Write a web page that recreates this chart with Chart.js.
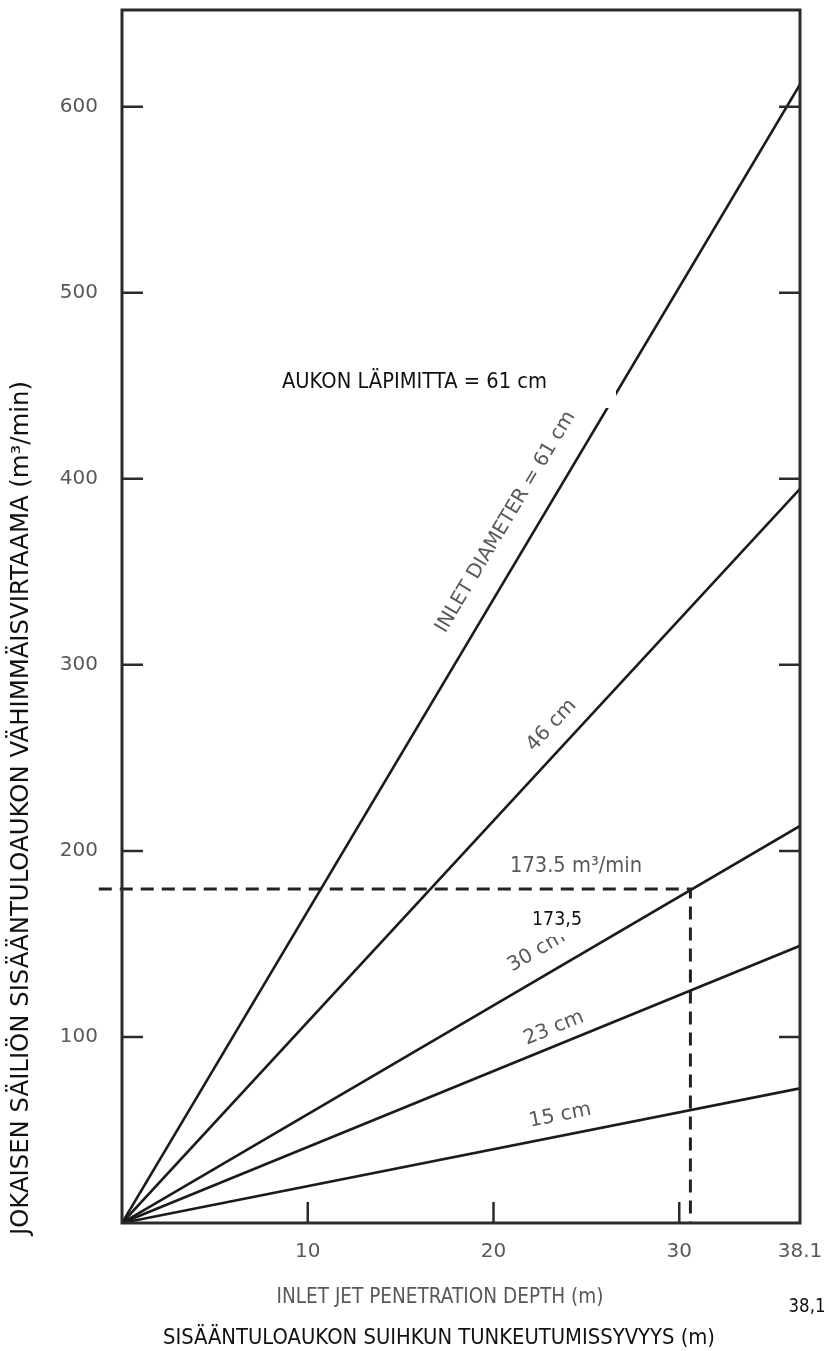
<!DOCTYPE html>
<html lang="fi">
<head>
<meta charset="utf-8">
<title>Sisääntuloaukon vähimmäisvirtaama</title>
<script src="https://cdn.jsdelivr.net/npm/chart.js@4.4.1/dist/chart.umd.min.js"></script>
<style>
  html, body { margin: 0; padding: 0; background: #fff; }
  #grafica { display: block; }
</style>
</head>
<body>
<canvas id="grafica" width="829" height="1351"></canvas>
<script>
// Akselit
const xMax = 36.5;               // kuvaajan oikea reuna (m)
const xTicks = [10, 20, 30];
const xUltimoTexto = '38.1';     // oikean reunan merkintä
const yMax = 652;
const yTicks = [100, 200, 300, 400, 500, 600];

// Suorat: halkaisija ja virtaama oikeassa reunassa (m3/min)
const diametros = ['INLET DIAMETER = 61 cm', '46 cm', '30 cm', '23 cm', '15 cm'];
const caudalFinal = [612, 394.6, 213.4, 149, 72.4];

// Katkoviivalla merkitty lukema
const lecturaX = 30.6;
const lecturaY = 179.5;
const lecturaInicioX = -1.25;

const FUENTE = "'DejaVu Sans', 'Noto Sans', sans-serif";
const GRIS = '#585858';
const NEGRO = '#111111';

function textoAjustado(ctx, txt, cx, cy, ancho, size, color, angulo) {
  ctx.save();
  ctx.font = size + 'px ' + FUENTE;
  ctx.fillStyle = color;
  ctx.textAlign = 'center';
  ctx.textBaseline = 'middle';
  ctx.translate(cx, cy);
  ctx.rotate(angulo || 0);
  const w = ctx.measureText(txt).width;
  ctx.scale(ancho / w, 1);
  ctx.fillText(txt, 0, 0);
  ctx.restore();
}

// etiquetas junto a las rectas: x del pie, distancia, ancho
const etiquetas = [
  { xv: 22.0, d: 29, ancho: 254, size: 20 },
  { xv: 24.0, d: 22, ancho: 63, size: 20 },
  { xv: 23.0, d: 25, ancho: 63, size: 20 },
  { xv: 23.6, d: 17, ancho: 63, size: 20 },
  { xv: 23.8, d: 20, ancho: 63, size: 20 }
];

const detalles = {
  id: 'detalles',
  afterDatasetsDraw(chart) {
    const { ctx, chartArea: { left, right, top, bottom }, scales: { x, y } } = chart;

    ctx.save();
    ctx.strokeStyle = '#2b2b2b';
    ctx.lineWidth = 3;
    ctx.strokeRect(left, top, right - left, bottom - top);

    // marcas hacia dentro
    ctx.lineWidth = 2.5;
    ctx.beginPath();
    yTicks.forEach(v => {
      const py = y.getPixelForValue(v);
      ctx.moveTo(left, py); ctx.lineTo(left + 21, py);
      ctx.moveTo(right - 21, py); ctx.lineTo(right, py);
    });
    xTicks.forEach(v => {
      const px = x.getPixelForValue(v);
      ctx.moveTo(px, bottom); ctx.lineTo(px, bottom - 21);
    });
    ctx.stroke();
    ctx.restore();

    // etiquetas de las rectas
    diametros.forEach((txt, i) => {
      const e = etiquetas[i];
      const x0 = x.getPixelForValue(0), y0 = y.getPixelForValue(0);
      const x1 = x.getPixelForValue(xMax), y1 = y.getPixelForValue(caudalFinal[i]);
      const ang = Math.atan2(y1 - y0, x1 - x0);
      const fx = x.getPixelForValue(e.xv);
      const fy = y.getPixelForValue(caudalFinal[i] * e.xv / xMax);
      const cx = fx + e.d * Math.sin(ang);
      const cy = fy - e.d * Math.cos(ang);
      textoAjustado(ctx, txt, cx, cy, e.ancho, e.size, GRIS, ang);
    });

    // suomenkielinen merkintä valkoisella pohjalla
    ctx.fillStyle = '#fff';
    ctx.fillRect(275, 364, 341, 44);
    textoAjustado(ctx, 'AUKON LÄPIMITTA = 61 cm', 414.5, 383, 265, 20.5, NEGRO, 0);

    textoAjustado(ctx, '173.5 m³/min', 576, 866, 132, 22, GRIS, 0);

    ctx.fillStyle = '#fff';
    ctx.fillRect(526, 904, 62, 33);
    textoAjustado(ctx, '173,5', 557, 920, 50, 19, NEGRO, 0);

    // akselien otsikot
    textoAjustado(ctx, 'INLET JET PENETRATION DEPTH (m)', 440, 1297, 327, 22, GRIS, 0);
    textoAjustado(ctx, '38,1', 807, 1307, 37, 20, NEGRO, 0);
    textoAjustado(ctx, 'SISÄÄNTULOAUKON SUIHKUN TUNKEUTUMISSYVYYS (m)', 439, 1339, 552, 20.5, NEGRO, 0);
    textoAjustado(ctx, 'JOKAISEN SÄILIÖN SISÄÄNTULOAUKON VÄHIMMÄISVIRTAAMA (m³/min)', 22, 808, 854, 24, NEGRO, -Math.PI / 2);
  }
};

const series = diametros.map((d, i) => ({
  label: d,
  data: [{ x: 0, y: 0 }, { x: xMax, y: caudalFinal[i] }],
  borderColor: '#1b1b1b',
  borderWidth: 2.6,
  pointRadius: 0,
  tension: 0,
  fill: false
}));

series.push({
  label: 'lukema',
  data: [{ x: lecturaInicioX, y: lecturaY }, { x: lecturaX, y: lecturaY }, { x: lecturaX, y: 0 }],
  borderColor: '#222',
  borderWidth: 3,
  borderDash: [13, 8],
  pointRadius: 0,
  tension: 0,
  fill: false,
  clip: false
});

const ctx = document.getElementById('grafica').getContext('2d');
const chart = new Chart(ctx, {
  type: 'line',
  data: { datasets: series },
  options: {
    responsive: false,
    animation: false,
    layout: { padding: { top: 10, right: 29, left: 0, bottom: 0 } },
    plugins: {
      legend: { display: false },
      tooltip: { enabled: false }
    },
    scales: {
      x: {
        type: 'linear',
        min: 0,
        max: xMax,
        grid: { display: false, drawTicks: false },
        border: { display: false },
        ticks: {
          color: GRIS,
          font: { family: FUENTE, size: 20 },
          padding: 17,
          maxRotation: 0,
          autoSkip: false,
          callback: v => (v === xMax ? xUltimoTexto : String(v))
        },
        afterBuildTicks: s => { s.ticks = [...xTicks, xMax].map(v => ({ value: v })); },
        afterFit: s => { s.height = 128; s.paddingLeft = 0; s.paddingRight = 0; }
      },
      y: {
        min: 0,
        max: yMax,
        grid: { display: false, drawTicks: false },
        border: { display: false },
        ticks: {
          color: GRIS,
          font: { family: FUENTE, size: 20 },
          padding: 24
        },
        afterBuildTicks: s => { s.ticks = yTicks.map(v => ({ value: v })); },
        afterFit: s => { s.width = 122; s.paddingTop = 0; s.paddingBottom = 0; }
      }
    }
  },
  plugins: [detalles]
});
</script>
</body>
</html>
